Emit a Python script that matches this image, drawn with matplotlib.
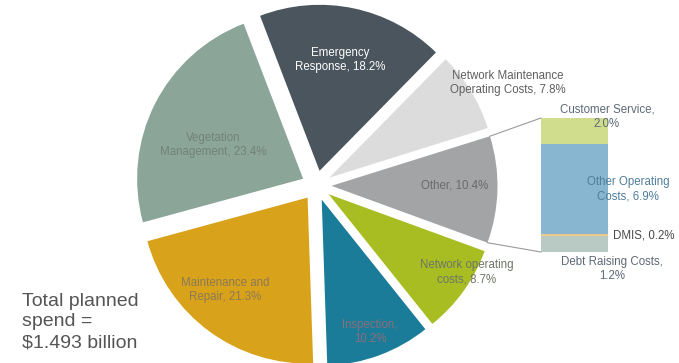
import matplotlib
matplotlib.use("Agg")
import matplotlib.pyplot as plt
import numpy as np

plt.rcParams['font.family'] = ['Liberation Sans', 'DejaVu Sans']

# Main pie: planned spend shares (%)
categories = ["Emergency\nResponse", "Network Maintenance\nOperating Costs", "Other",
              "Network operating\ncosts", "Inspection,\n", "Maintenance and\nRepair",
              "Vegetation\nManagement"]
values = [18.2, 7.8, 10.4, 8.7, 10.2, 21.3, 23.4]
colors = ["#4b555d", "#dcdcdc", "#a2a4a6", "#a8bd22", "#1a7c98", "#d9a21b", "#8ba699"]

# Breakdown of "Other" (%), bottom to top
sub_categories = ["Debt Raising Costs,\n", "DMIS, ", "Other Operating\nCosts, ", "Customer Service,\n"]
sub_values = [1.2, 0.2, 6.9, 2.0]
sub_colors = ["#b9c9c4", "#eccb8c", "#88b6d0", "#d0dd8c"]

W, H = 679, 363
fig = plt.figure(figsize=(W / 100, H / 100), dpi=100)
ax = fig.add_axes([0, 0, 1, 1])

cx, cy, R, gap = 316.5, 177.5, 166, 15
wedges, _ = ax.pie(values, colors=colors, startangle=111, counterclock=False,
                   center=(cx, cy), radius=R, explode=[gap] * len(values),
                   frame=True)
ax.set_xlim(0, W)
ax.set_ylim(0, H)
ax.set_aspect("equal")
ax.axis("off")

label_fmt = [f"{c}, {v:.1f}%" for c, v in zip(categories, values)]
label_fmt[4] = f"Inspection,\n{values[4]:.1f}%"
label_pos = [(340, 303), (508, 280), (455, 177), (467, 91), (370, 31), (225, 73), (213, 218)]
label_col = ["white", "#5f5f5f", "#6a6a6a", "#6d7566", "#8a6f7c", "#8c7a56", "#728279"]
for txt, (x, y), c in zip(label_fmt, label_pos, label_col):
    ax.text(x, y, txt, ha="center", va="center", fontsize=8.3, color=c,
            linespacing=1.25)

# Stacked bar for the "Other" breakdown
bar_x, bar_w, bar_bottom = 574.5, 67, 111
scale = 134 / sum(sub_values)
heights = np.array(sub_values) * scale
bottoms = bar_bottom + np.concatenate([[0], np.cumsum(heights)[:-1]])
ax.bar([bar_x] * len(sub_values), heights, width=bar_w, bottom=bottoms,
       color=sub_colors, edgecolor="none")

# Connector lines from the "Other" wedge to the bar
w = wedges[2]
t1, t2 = np.deg2rad(w.theta1), np.deg2rad(w.theta2)
wcx, wcy = w.center
top_pt = (wcx + R * np.cos(t2), wcy + R * np.sin(t2))
bot_pt = (wcx + R * np.cos(t1), wcy + R * np.sin(t1))
bar_left = bar_x - bar_w / 2
bar_top = bar_bottom + heights.sum()
ax.plot([top_pt[0], bar_left], [top_pt[1], bar_top], color="#9a9a9a", lw=0.8)
ax.plot([bot_pt[0], bar_left], [bot_pt[1], bar_bottom], color="#9a9a9a", lw=0.8)

sub_text = [f"{c}{v:.1f}%" for c, v in zip(sub_categories, sub_values)]
ax.text(612, 94, sub_text[0], ha="center", va="center", fontsize=8.3,
        color="#5d6875", linespacing=1.25)
ax.text(613, 127, sub_text[1], ha="left", va="center", fontsize=8.3, color="#4a4a4a")
ax.text(628, 174, sub_text[2], ha="center", va="center", fontsize=8.3,
        color="#4f7d9a", linespacing=1.25)
ax.text(607, 246, sub_text[3], ha="center", va="center", fontsize=8.3,
        color="#5d6875", linespacing=1.25)

ax.text(22, 41, "Total planned\nspend =\n$1.493 billion", ha="left", va="center",
        fontsize=14, color="#555555", linespacing=1.3)

fig.savefig("out.png", dpi=100)
